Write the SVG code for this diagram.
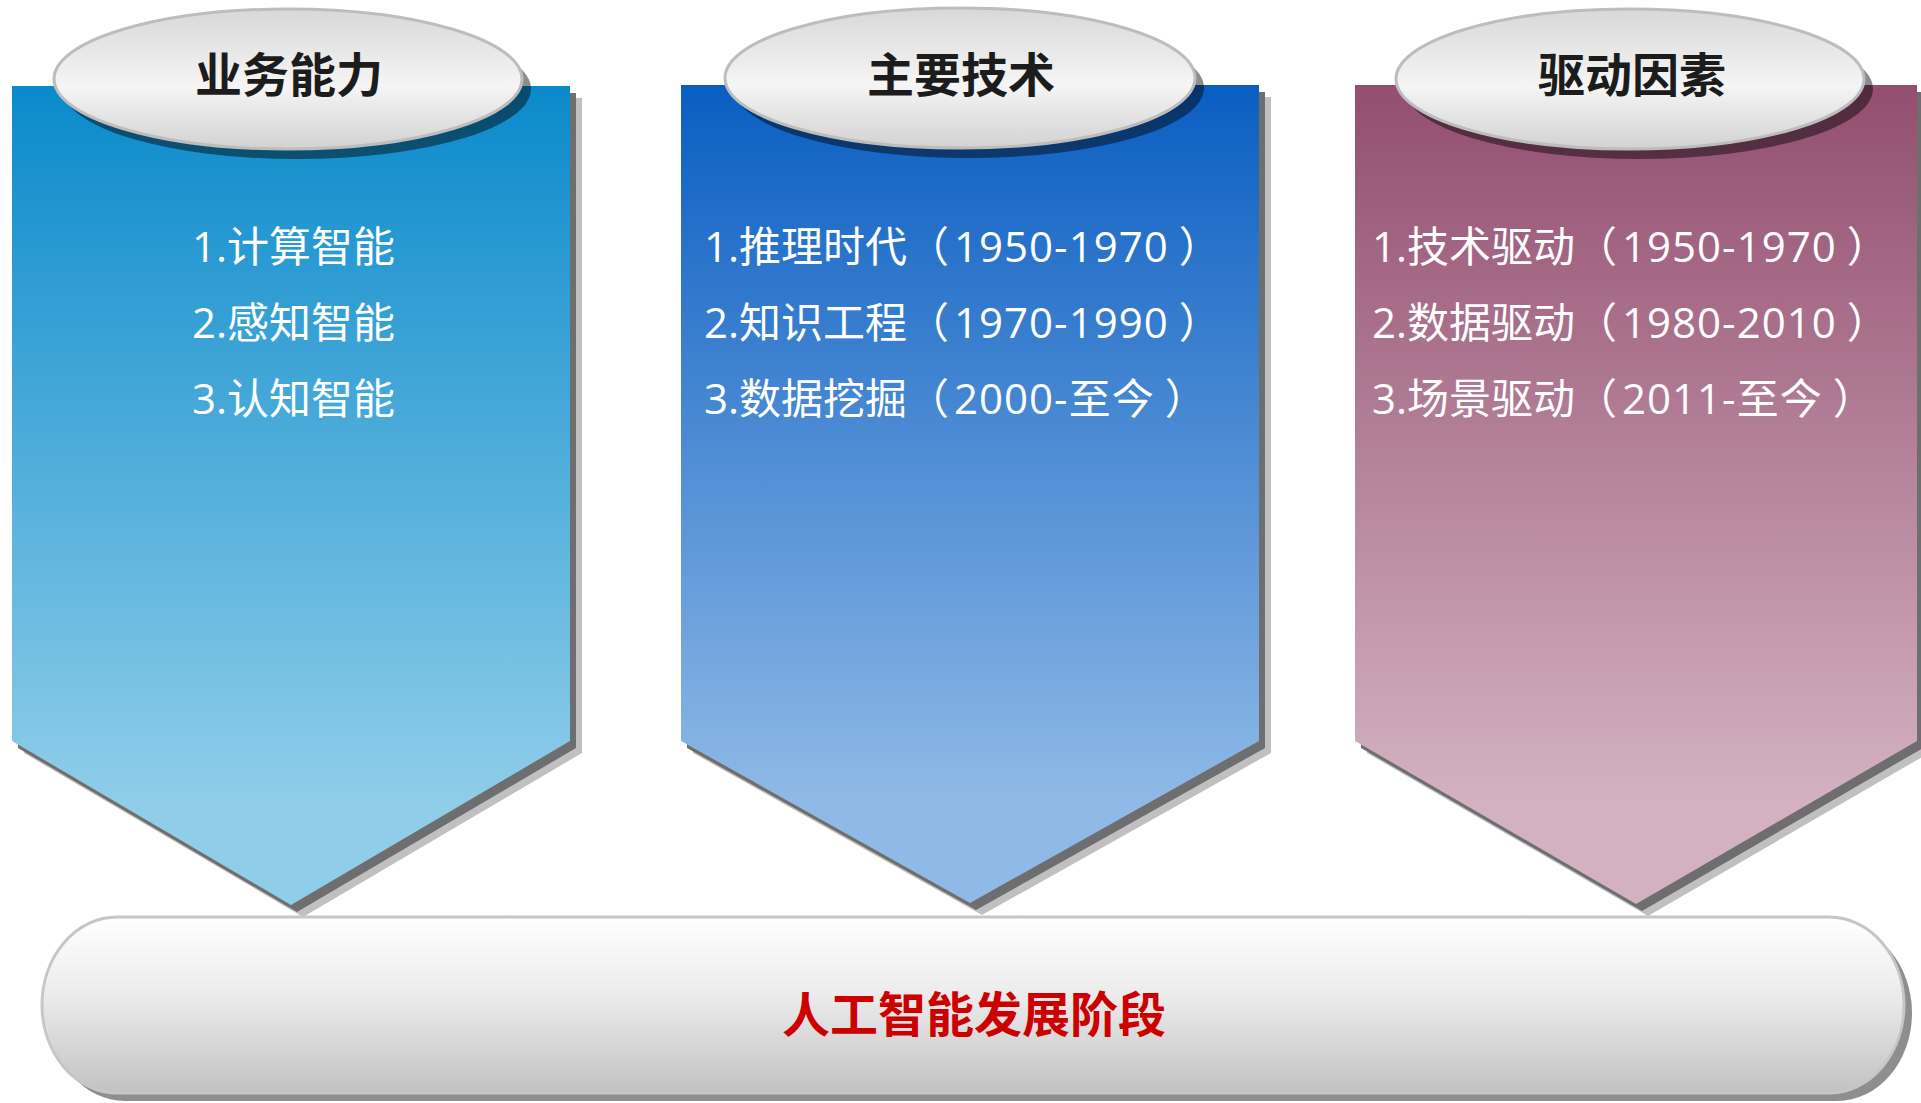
<svg xmlns="http://www.w3.org/2000/svg" width="1921" height="1103" viewBox="0 0 1921 1103">
<defs>
<linearGradient id="gBlue" x1="0" y1="86" x2="0" y2="800" gradientUnits="userSpaceOnUse">
<stop offset="0" stop-color="#0a8acb"/><stop offset="1" stop-color="#8fcde9"/>
</linearGradient>
<linearGradient id="gNavy" x1="0" y1="85" x2="0" y2="800" gradientUnits="userSpaceOnUse">
<stop offset="0" stop-color="#0a5ec2"/><stop offset="1" stop-color="#8fb9e6"/>
</linearGradient>
<linearGradient id="gMauve" x1="0" y1="85" x2="0" y2="800" gradientUnits="userSpaceOnUse">
<stop offset="0" stop-color="#934e70"/><stop offset="1" stop-color="#d3b1c1"/>
</linearGradient>
<linearGradient id="gEll" x1="0" y1="0" x2="0" y2="1">
<stop offset="0" stop-color="#d8d8d8"/><stop offset="0.55" stop-color="#f5f5f5"/><stop offset="1" stop-color="#d2d2d2"/>
</linearGradient>
<linearGradient id="gBar" x1="0" y1="0" x2="0" y2="1">
<stop offset="0" stop-color="#ffffff"/><stop offset="0.45" stop-color="#ebebeb"/><stop offset="1" stop-color="#c2c2c2"/>
</linearGradient>
<style>
.sh1{fill:#c0c0c0}
.sh2{fill:#6e6e6e}
.esh{fill:#000;fill-opacity:0.45}
.ell{fill:url(#gEll);stroke:#bdbdbd;stroke-width:3}
.title{font-family:"Noto Sans CJK SC","Noto Sans",sans-serif;font-weight:700;font-size:47px;fill:#1c1c1c;text-anchor:middle}
.body{font-family:"Open Sans","Noto Sans CJK SC",sans-serif;font-size:42px;fill:#ffffff}
.num{letter-spacing:1px}
.main{font-family:"Noto Sans CJK SC","Noto Sans",sans-serif;font-weight:700;font-size:48px;fill:#cc0000;text-anchor:middle}
</style>
</defs>
<rect width="1921" height="1103" fill="#ffffff"/>

<g id="panel-capability">
<polygon class="sh1" transform="translate(12,12)" points="12,86 570,86 570,741 291,905 12,741"/>
<polygon class="sh2" transform="translate(6,7)" points="12,86 570,86 570,741 291,905 12,741"/>
<polygon fill="url(#gBlue)" points="12,86 570,86 570,741 291,905 12,741"/>
<ellipse class="esh" cx="297" cy="89" rx="234" ry="70"/>
<ellipse class="ell" cx="288" cy="79" rx="234" ry="70"/>
<text class="title" x="289" y="92">业务能力</text>
<text class="body" x="192" y="262">1.计算智能</text>
<text class="body" x="192" y="338">2.感知智能</text>
<text class="body" x="192" y="414">3.认知智能</text>
</g>

<g id="panel-technology">
<polygon class="sh1" transform="translate(12,12)" points="681,85 1259,85 1259,741 970,903 681,741"/>
<polygon class="sh2" transform="translate(6,7)" points="681,85 1259,85 1259,741 970,903 681,741"/>
<polygon fill="url(#gNavy)" points="681,85 1259,85 1259,741 970,903 681,741"/>
<ellipse class="esh" cx="969" cy="88" rx="235" ry="70"/>
<ellipse class="ell" cx="960" cy="78" rx="235" ry="70"/>
<text class="title" x="961" y="92">主要技术</text>
<text class="body" x="704" y="262">1.推理时代（<tspan class="num" dx="5">1950-1970</tspan><tspan dx="10">）</tspan></text>
<text class="body" x="704" y="338">2.知识工程（<tspan class="num" dx="5">1970-1990</tspan><tspan dx="10">）</tspan></text>
<text class="body" x="704" y="414">3.数据挖掘（<tspan class="num" dx="5">2000-至今</tspan><tspan dx="10">）</tspan></text>
</g>

<g id="panel-drivers">
<polygon class="sh1" transform="translate(12,12)" points="1355,85 1917,85 1917,741 1636,904 1355,741"/>
<polygon class="sh2" transform="translate(6,7)" points="1355,85 1917,85 1917,741 1636,904 1355,741"/>
<polygon fill="url(#gMauve)" points="1355,85 1917,85 1917,741 1636,904 1355,741"/>
<ellipse class="esh" cx="1639" cy="89" rx="234" ry="70"/>
<ellipse class="ell" cx="1630" cy="79" rx="234" ry="70"/>
<text class="title" x="1632" y="92">驱动因素</text>
<text class="body" x="1372" y="262">1.技术驱动（<tspan class="num" dx="5">1950-1970</tspan><tspan dx="10">）</tspan></text>
<text class="body" x="1372" y="338">2.数据驱动（<tspan class="num" dx="5">1980-2010</tspan><tspan dx="10">）</tspan></text>
<text class="body" x="1372" y="414">3.场景驱动（<tspan class="num" dx="5">2011-至今</tspan><tspan dx="10">）</tspan></text>
</g>

<g id="stage-bar">
<rect x="50" y="925" width="1862" height="176" rx="75" ry="88" fill="#8e8e8e"/>
<rect x="42" y="917" width="1862" height="176" rx="75" ry="88" fill="url(#gBar)" stroke="#c6c6c6" stroke-width="3"/>
<text class="main" x="974" y="1032">人工智能发展阶段</text>
</g>

<g id="connectors"></g>
</svg>
